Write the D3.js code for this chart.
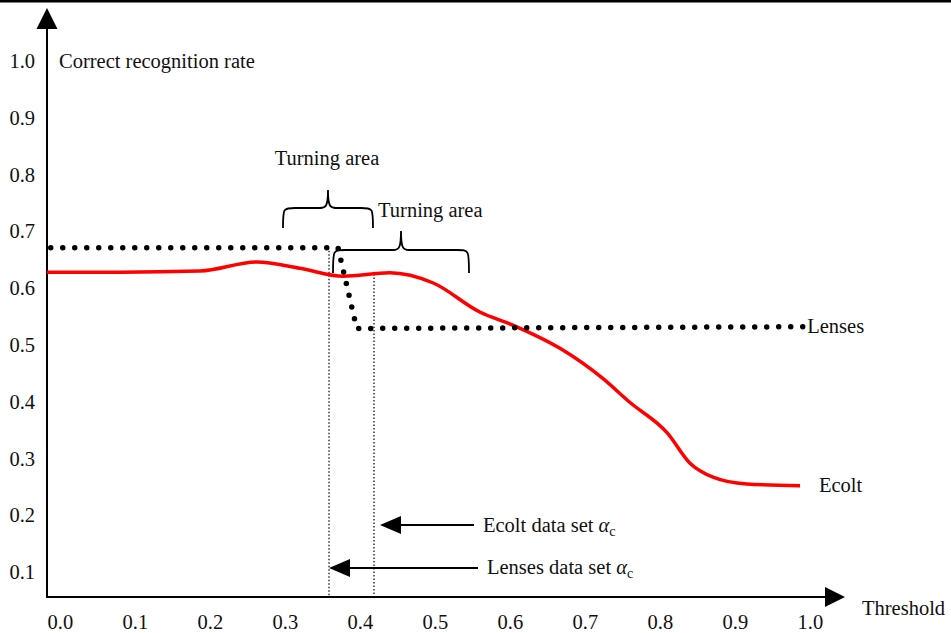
<!DOCTYPE html>
<html>
<head>
<meta charset="utf-8">
<script src="https://cdn.jsdelivr.net/npm/d3@7"></script>
<style>
  body { margin: 0; background: #fff; }
  text { font-family: "Liberation Serif", "Times New Roman", serif; fill: #111; }
</style>
</head>
<body>
<div id="chart"></div>
<script>
// chart data
const xTicks = [0, 0.1, 0.2, 0.3, 0.4, 0.5, 0.6, 0.7, 0.8, 0.9, 1.0];
const yTicks = [0.1, 0.2, 0.3, 0.4, 0.5, 0.6, 0.7, 0.8, 0.9, 1.0];

const ecoltX = [0, 0.097, 0.204, 0.280, 0.337, 0.395, 0.457, 0.515, 0.577, 0.621, 0.684, 0.741, 0.777, 0.827, 0.857, 0.888, 0.933, 1.004];
const ecoltY = [0.628, 0.628, 0.630, 0.646, 0.635, 0.621, 0.627, 0.609, 0.558, 0.535, 0.494, 0.441, 0.399, 0.345, 0.292, 0.267, 0.255, 0.252];

const lensesX = [0.005, 0.388, 0.413, 1.011];
const lensesY = [0.671, 0.671, 0.529, 0.532];

const lensesAlpha = 0.376;
const ecoltAlpha = 0.436;

const width = 951, height = 633;
const fs = "20.5px";

const svg = d3.select("#chart")
    .append("svg")
    .attr("width", width)
    .attr("height", height);

// scales
const x = d3.scaleLinear().domain([0, 1]).range([47, 797]);
const y = d3.scaleLinear().domain([0, 1]).range([628.8, 61]);
const baseY = y(0.056);

// top rule
svg.append("rect").attr("x", 0).attr("y", 0).attr("width", width).attr("height", 2.5).attr("fill", "#000");

// tick labels
const xAxis = svg.append("g")
    .attr("transform", `translate(0, ${baseY})`)
    .call(d3.axisBottom(x).tickValues(xTicks).tickSize(0).tickPadding(17).tickFormat(d3.format(".1f")));
xAxis.select(".domain").remove();
xAxis.selectAll("text")
    .attr("text-anchor", "start")
    .style("font-family", "Liberation Serif")
    .style("font-size", fs)
    .style("fill", "#111");

const yAxis = svg.append("g")
    .attr("transform", `translate(35, 0)`)
    .call(d3.axisLeft(y).tickValues(yTicks).tickSize(0).tickPadding(0).tickFormat(d3.format(".1f")));
yAxis.select(".domain").remove();
yAxis.selectAll("text")
    .style("font-family", "Liberation Serif")
    .style("font-size", fs)
    .style("fill", "#111");

// axis lines with arrow heads
svg.append("line")
    .attr("x1", x(0)).attr("y1", baseY)
    .attr("x2", x(0)).attr("y2", 26)
    .attr("stroke", "#000").attr("stroke-width", 2);
svg.append("path")
    .attr("d", `M${x(0)},8 L${x(0) - 10.5},29 L${x(0) + 10.5},29 Z`)
    .attr("fill", "#000");
svg.append("line")
    .attr("x1", x(0) - 1).attr("y1", baseY)
    .attr("x2", 828).attr("y2", baseY)
    .attr("stroke", "#000").attr("stroke-width", 2);
svg.append("path")
    .attr("d", `M845,${baseY} L825,${baseY - 10} L825,${baseY + 10} Z`)
    .attr("fill", "#000");

// axis titles
svg.append("text")
    .attr("x", 59).attr("y", y(1.0)).attr("dy", "0.35em")
    .style("font-size", fs)
    .text("Correct recognition rate");
svg.append("text")
    .attr("x", 862).attr("y", 608).attr("dy", "0.35em")
    .style("font-size", fs)
    .text("Threshold");

// alpha_c markers (thin dotted verticals)
const ecoltLine = d3.line()
    .x((d, i) => x(ecoltX[i]))
    .y((d, i) => y(ecoltY[i]))
    .curve(d3.curveMonotoneX);

svg.append("line")
    .attr("x1", x(lensesAlpha)).attr("x2", x(lensesAlpha))
    .attr("y1", y(lensesY[0]) + 3).attr("y2", baseY)
    .attr("stroke", "#000").attr("stroke-width", 1.2).attr("stroke-dasharray", "1.5,2");
svg.append("line")
    .attr("x1", x(ecoltAlpha)).attr("x2", x(ecoltAlpha))
    .attr("y1", y(0.625)).attr("y2", baseY)
    .attr("stroke", "#000").attr("stroke-width", 1.2).attr("stroke-dasharray", "1.5,2");

// Ecolt curve
svg.append("path")
    .datum(ecoltX)
    .attr("d", ecoltLine)
    .attr("fill", "none")
    .attr("stroke", "#ff0000")
    .attr("stroke-width", 3.5);

// Lenses dotted line
svg.append("path")
    .datum(lensesX)
    .attr("d", d3.line().x((d, i) => x(lensesX[i])).y((d, i) => y(lensesY[i])))
    .attr("fill", "none")
    .attr("stroke", "#000")
    .attr("stroke-width", 5.5)
    .attr("stroke-linecap", "round")
    .attr("stroke-dasharray", "0,12");

// series labels
svg.append("text")
    .attr("x", x(1.011) + 2).attr("y", y(0.532)).attr("dy", "0.3em")
    .style("font-size", fs).text("Lenses");
svg.append("text")
    .attr("x", 819).attr("y", y(0.252)).attr("dy", "0.3em")
    .style("font-size", fs).text("Ecolt");

// curly braces for "Turning area"
function brace(x0, x1, yEnd, yBar, yPeak) {
    const xm = (x0 + x1) / 2, r = 8;
    return `M${x0},${yEnd} C${x0},${yBar} ${x0},${yBar} ${x0 + r * 1.5},${yBar}` +
        ` L${xm - r},${yBar} C${xm - 2},${yBar} ${xm},${yBar - 2} ${xm},${yPeak}` +
        ` C${xm},${yBar - 2} ${xm + 2},${yBar} ${xm + r},${yBar}` +
        ` L${x1 - r * 1.5},${yBar} C${x1},${yBar} ${x1},${yBar} ${x1},${yEnd}`;
}
svg.append("path")
    .attr("d", brace(283, 373, 228, 208, 190))
    .attr("fill", "none").attr("stroke", "#000").attr("stroke-width", 1.8);
svg.append("path")
    .attr("d", brace(333, 469, 273, 250, 231))
    .attr("fill", "none").attr("stroke", "#000").attr("stroke-width", 1.8);

svg.append("text")
    .attr("x", 327).attr("y", 158).attr("dy", "0.35em")
    .attr("text-anchor", "middle")
    .style("font-size", fs).text("Turning area");
svg.append("text")
    .attr("x", 378).attr("y", 210).attr("dy", "0.35em")
    .style("font-size", fs).text("Turning area");

// alpha_c arrows
function arrow(tipX, tailX, yy) {
    svg.append("line")
        .attr("x1", tailX).attr("y1", yy)
        .attr("x2", tipX + 18).attr("y2", yy)
        .attr("stroke", "#000").attr("stroke-width", 2);
    svg.append("path")
        .attr("d", `M${tipX},${yy} L${tipX + 21},${yy - 9} L${tipX + 21},${yy + 9} Z`)
        .attr("fill", "#000");
}
arrow(x(ecoltAlpha) + 6, 474, 525);
arrow(x(lensesAlpha), 478, 568);

function alphaLabel(xx, yy, name) {
    const t = svg.append("text")
        .attr("x", xx).attr("y", yy).attr("dy", "0.35em")
        .style("font-size", fs);
    t.append("tspan").text(name + " data set ");
    t.append("tspan").style("font-style", "italic").text("\u03b1");
    t.append("tspan").attr("dy", "0.25em").style("font-size", "14px").text("c");
}
alphaLabel(483, 525, "Ecolt");
alphaLabel(487, 567, "Lenses");
</script>
</body>
</html>
